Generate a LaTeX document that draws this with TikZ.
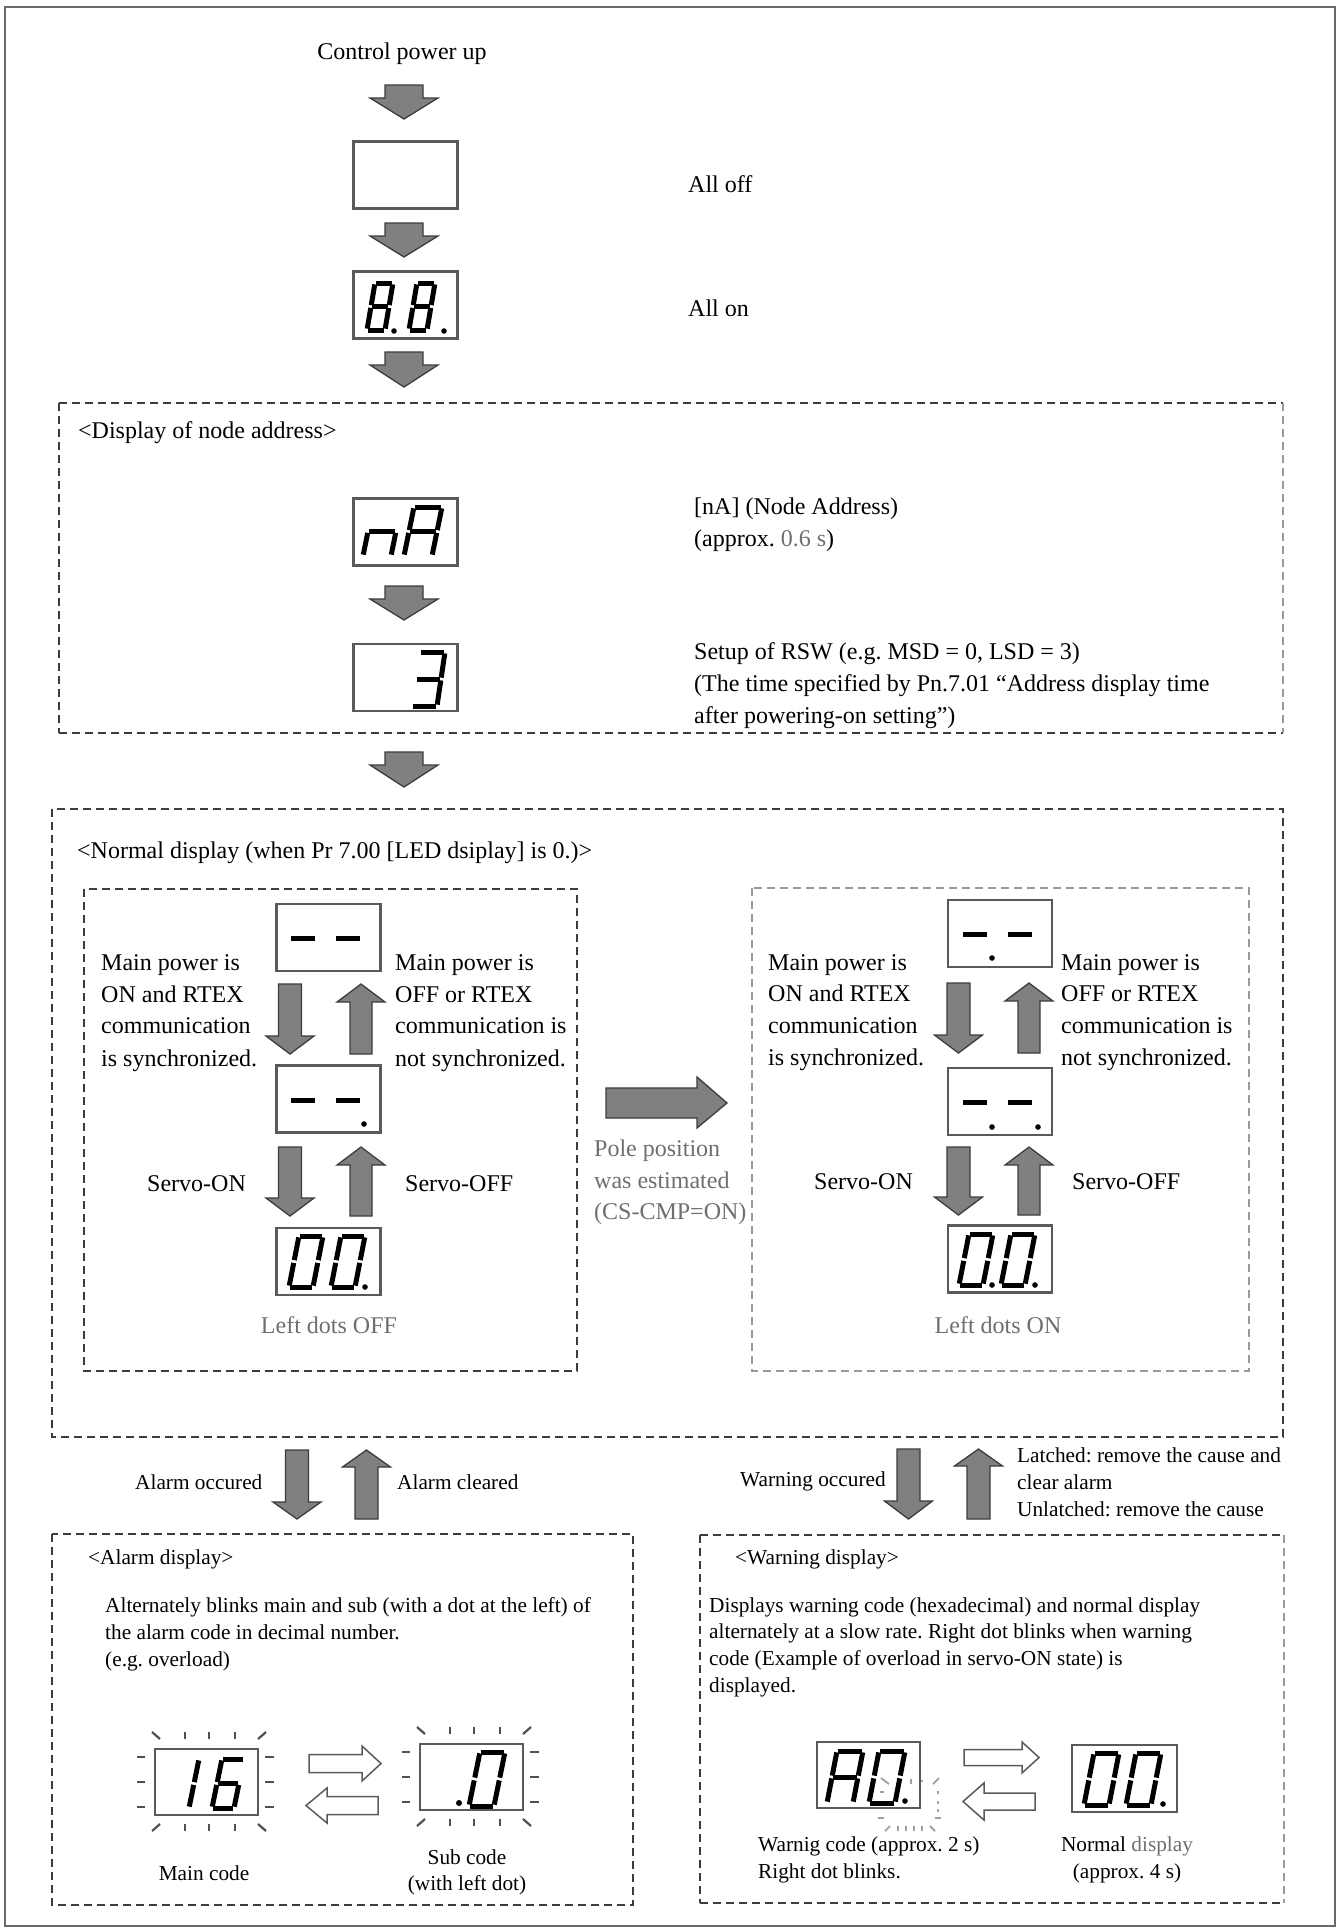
\documentclass[tikz,border=0pt]{standalone}
\usepackage{fontspec}
\setmainfont{Liberation Serif}
\frenchspacing
\definecolor{arrfill}{HTML}{808080}
\definecolor{arrdraw}{HTML}{3C3C3C}
\definecolor{boxc}{HTML}{5A5A5A}
\definecolor{dashc}{HTML}{3C3C3C}
\definecolor{dashl}{HTML}{9A9A9A}
\definecolor{graytxt}{HTML}{6E6E6E}
\definecolor{tickc}{HTML}{505050}
\definecolor{tickl}{HTML}{A0A0A0}
\definecolor{framec}{HTML}{6A6A6A}
\newcommand\sdig[6]{%
 \begin{scope}[shift={(#1,#2)}]
 \coordinate (BL) at (0,0);
 \coordinate (BR) at (#3,0);
 \coordinate (ML) at ({#5/2},{-#4/2});
 \coordinate (MR) at ({#3+#5/2},{-#4/2});
 \coordinate (TL) at (#5,-#4);
 \coordinate (TR) at ({#3+#5},-#4);
 \foreach \p/\q in #6 {\draw[segl] (\p) -- (\q);}
 \end{scope}}
\def\segEight{TL/TR,TR/MR,MR/BR,BL/BR,ML/BL,TL/ML,ML/MR}
\def\segZero{TL/TR,TR/MR,MR/BR,BL/BR,ML/BL,TL/ML}
\def\segOne{TR/MR,MR/BR}
\def\segSix{TL/TR,TL/ML,ML/MR,ML/BL,BL/BR,MR/BR}
\def\segThree{TL/TR,TR/MR,ML/MR,MR/BR,BL/BR}
\def\segN{ML/MR,ML/BL,MR/BR}
\def\segA{TL/TR,TR/MR,MR/BR,ML/BL,TL/ML,ML/MR}
\newcommand\blinkbox[2]{%
 \begin{scope}[shift={(#1,#2)}]
 \foreach \xx in {30,54,80} {\draw[tick] (\xx,-17) -- (\xx,-10); \draw[tick] (\xx,75) -- (\xx,82);}
 \foreach \yy in {8,33,58} {\draw[tick] (-18,\yy) -- (-10,\yy); \draw[tick] (110,\yy) -- (119,\yy);}
 \draw[tick] (-3,-17) -- (5,-10);
 \draw[tick] (103,-10) -- (111,-17);
 \draw[tick] (-3,82) -- (5,75);
 \draw[tick] (103,75) -- (111,82);
 \end{scope}}
\newcommand\barrowdown[6]{% cx ytop yhead ytip shw hhw
 \draw[blk] ({#1-#5},#2) -- ({#1+#5},#2) -- ({#1+#5},#3) -- ({#1+#6},#3) -- (#1,#4) -- ({#1-#6},#3) -- ({#1-#5},#3) -- cycle;}
\newcommand\barrowup[6]{% cx ytip yhead ybot shw hhw
 \draw[blk] (#1,#2) -- ({#1+#6},#3) -- ({#1+#5},#3) -- ({#1+#5},#4) -- ({#1-#5},#4) -- ({#1-#5},#3) -- ({#1-#6},#3) -- cycle;}
\newcommand\harrowR[6]{% x1 xhead xtip yc shh hhh
 \draw[hollow] (#1,{#4-#5}) -- (#2,{#4-#5}) -- (#2,{#4-#6}) -- (#3,#4) -- (#2,{#4+#6}) -- (#2,{#4+#5}) -- (#1,{#4+#5}) -- cycle;}
\newcommand\harrowL[6]{% xtip xhead x2 yc shh hhh
 \draw[hollow] (#1,#4) -- (#2,{#4-#6}) -- (#2,{#4-#5}) -- (#3,{#4-#5}) -- (#3,{#4+#5}) -- (#2,{#4+#5}) -- (#2,{#4+#6}) -- cycle;}
\tikzset{
 blk/.style={fill=arrfill, draw=arrdraw, line width=1.3pt, line join=miter},
 hollow/.style={fill=white, draw=boxc, line width=1.5pt, line join=miter},
 dbox/.style={draw=dashc, line width=2pt, dash pattern=on 8pt off 5pt},
 dboxl/.style={draw=dashl, line width=2pt, dash pattern=on 8pt off 5pt},
 disp/.style={draw=boxc, line width=2.2pt, fill=white, minimum width=104pt, minimum height=67pt, inner sep=0pt},
 segl/.style={line width=5pt, shorten <=1.4pt, shorten >=1.4pt},
 dashseg/.style={line width=5pt},
 tick/.style={draw=tickc, line width=2.2pt},
 tickw/.style={draw=tickl, line width=1.8pt},
 big/.style={font=\fontsize{24}{32}\selectfont, inner sep=0pt},
 small/.style={font=\fontsize{21.3}{27}\selectfont, inner sep=0pt},
}
\begin{document}
\begin{tikzpicture}[x=1pt,y=-1pt]
\useasboundingbox (0,0) rectangle (1340,1928);
\draw[framec, line width=2.5pt] (5,7) rectangle (1335,1926);

% ---------- top column ----------
\node[big, anchor=base] (tcpu) at (402,59) {Control power up};
\barrowdown{404}{85}{98}{119}{19}{34}
\node[disp] (alloff) at (405.5,175) {};
\node[big, anchor=base west] (talloff) at (688,192) {All off};
\barrowdown{404}{223}{236}{257}{19}{34}
\node[disp] (allon) at (405.5,305) {};
\sdig{367}{330}{18}{47}{8}{\segEight}
\sdig{409}{330}{18}{47}{8}{\segEight}
\fill (394,331) circle[radius=2.8pt];
\fill (444,331) circle[radius=2.8pt];
\node[big, anchor=base west] (tallon) at (688,316) {All on};
\barrowdown{404}{352}{365}{387}{19}{34}

% ---------- node address box ----------
\draw[dbox] (59,403) -- (1283,403);
\draw[dbox] (59,733) -- (1283,733);
\draw[dbox] (59,403) -- (59,733);
\draw[dboxl] (1283,403) -- (1283,733);
\node[big, anchor=base west] (tdna) at (78,438) {<Display of node address>};
\node[disp] (na) at (405.5,532) {};
\sdig{363}{556}{28}{49}{10}{\segN}
\sdig{404}{556}{28}{49}{10}{\segA}
\node[big, anchor=base west] (tna1) at (694,514) {[nA] (Node Address)};
\node[big, anchor=base west] (tna2) at (694,546) {(approx. \textcolor{graytxt}{0.6 s})};
\barrowdown{404}{586}{599}{620}{19}{34}
\node[disp] (three) at (405.5,677.5) {};
\sdig{412}{706}{25}{54}{8}{\segThree}
\node[big, anchor=base west] (tsu1) at (694,659) {Setup of RSW (e.g. MSD = 0, LSD = 3)};
\node[big, anchor=base west] (tsu2) at (694,691) {(The time specified by Pn.7.01 “Address display time};
\node[big, anchor=base west] (tsu3) at (694,723) {after powering-on setting”)};
\barrowdown{404}{752}{765}{787}{19}{34}

% ---------- normal display box ----------
\draw[dbox] (52,809) rectangle (1283,1437);
\node[big, anchor=base west] (tnorm) at (77,858) {<Normal display (when Pr 7.00 [LED dsiplay] is 0.)>};
\draw[dbox] (84,889) rectangle (577,1371);
\draw[dboxl] (752,888) rectangle (1249,1371);

% left column
\node[disp] (L1) at (328.5,937.5) {};
\draw[dashseg] (291,938) -- (315,938);
\draw[dashseg] (336,938) -- (360,938);
\barrowdown{290}{984}{1036}{1054}{11.5}{24}
\barrowup{361}{984}{1002}{1054}{11}{24}
\node[disp] (L2) at (328.5,1099) {};
\draw[dashseg] (291,1100) -- (315,1100);
\draw[dashseg] (336,1100) -- (360,1100);
\fill (364,1124) circle[radius=2.8pt];
\barrowdown{290}{1147}{1198}{1216}{11.5}{24}
\barrowup{361}{1147}{1165}{1216}{11}{24}
\node[disp] (L3) at (328.5,1261.5) {};
\sdig{289}{1287}{24}{51}{10}{\segZero}
\sdig{331}{1287}{24}{51}{10}{\segZero}
\fill (365,1287) circle[radius=2.8pt];
\node[big, anchor=base west] (tl1) at (101,970) {Main power is};
\node[big, anchor=base west] (tl2) at (101,1002) {ON and RTEX};
\node[big, anchor=base west] (tl3) at (101,1033) {communication};
\node[big, anchor=base west] (tl4) at (101,1066) {is synchronized.};
\node[big, anchor=base west] (tr1) at (395,970) {Main power is};
\node[big, anchor=base west] (tr2) at (395,1002) {OFF or RTEX};
\node[big, anchor=base west] (tr3) at (395,1033) {communication is};
\node[big, anchor=base west] (tr4) at (395,1066) {not synchronized.};
\node[big, anchor=base west] (tson) at (147,1191) {Servo-ON};
\node[big, anchor=base west] (tsoff) at (405,1191) {Servo-OFF};
\node[big, anchor=base, text=graytxt] (tldoff) at (329,1333) {Left dots OFF};

% pole arrow
\draw[blk] (606,1088) -- (697,1088) -- (697,1077) -- (727,1103) -- (697,1128) -- (697,1118) -- (606,1118) -- cycle;
\node[big, anchor=base west, text=graytxt] (tp1) at (594,1156) {Pole position};
\node[big, anchor=base west, text=graytxt] (tp2) at (594,1188) {was estimated};
\node[big, anchor=base west, text=graytxt] (tp3) at (594,1219) {(CS-CMP=ON)};

% right column
\node[disp] (R1) at (1000,933.5) {};
\draw[dashseg] (963,934) -- (987,934);
\draw[dashseg] (1008,934) -- (1032,934);
\fill (992,958) circle[radius=2.8pt];
\barrowdown{958.5}{983}{1035}{1053}{11.5}{24}
\barrowup{1029}{983}{1001}{1053}{11}{24}
\node[disp] (R2) at (1000,1101.5) {};
\draw[dashseg] (963,1102) -- (987,1102);
\draw[dashseg] (1008,1102) -- (1032,1102);
\fill (992,1127) circle[radius=2.8pt];
\fill (1038,1127) circle[radius=2.8pt];
\barrowdown{958.5}{1147}{1197}{1215}{11.5}{24}
\barrowup{1029}{1147}{1165}{1215}{11}{24}
\node[disp] (R3) at (1000,1259) {};
\sdig{959}{1285}{24}{51}{10}{\segZero}
\sdig{1001}{1285}{24}{51}{10}{\segZero}
\fill (992,1285) circle[radius=2.8pt];
\fill (1035,1285) circle[radius=2.8pt];
\node[big, anchor=base west] (rl1) at (768,970) {Main power is};
\node[big, anchor=base west] (rl2) at (768,1001) {ON and RTEX};
\node[big, anchor=base west] (rl3) at (768,1033) {communication};
\node[big, anchor=base west] (rl4) at (768,1065) {is synchronized.};
\node[big, anchor=base west] (rr1) at (1061,970) {Main power is};
\node[big, anchor=base west] (rr2) at (1061,1001) {OFF or RTEX};
\node[big, anchor=base west] (rr3) at (1061,1033) {communication is};
\node[big, anchor=base west] (rr4) at (1061,1065) {not synchronized.};
\node[big, anchor=base west] (rson) at (814,1189) {Servo-ON};
\node[big, anchor=base west] (rsoff) at (1072,1189) {Servo-OFF};
\node[big, anchor=base, text=graytxt] (tldon) at (998,1333) {Left dots ON};

% ---------- transitions to alarm / warning ----------
\barrowdown{297}{1450}{1502}{1519}{11.5}{24}
\barrowup{366.5}{1450}{1467}{1519}{11.5}{24}
\node[small, anchor=base west] (taocc) at (135,1489) {Alarm occured};
\node[small, anchor=base west] (taclr) at (397,1489) {Alarm cleared};
\barrowdown{908.5}{1449}{1501}{1519}{11.5}{24}
\barrowup{978.5}{1449}{1466}{1519}{11.5}{24}
\node[small, anchor=base west] (twocc) at (740,1486) {Warning occured};
\node[small, anchor=base west] (tlat1) at (1017,1462) {Latched: remove the cause and};
\node[small, anchor=base west] (tlat2) at (1017,1489) {clear alarm};
\node[small, anchor=base west] (tlat3) at (1017,1516) {Unlatched: remove the cause};

% ---------- alarm display ----------
\draw[dbox] (52,1534) rectangle (633,1905);
\node[small, anchor=base west] (tad) at (88,1564) {<Alarm display>};
\node[small, anchor=base west] (ta1) at (105,1612) {Alternately blinks main and sub (with a dot at the left) of};
\node[small, anchor=base west] (ta2) at (105,1639) {the alarm code in decimal number.};
\node[small, anchor=base west] (ta3) at (105,1666) {(e.g. overload)};
\blinkbox{155}{1749}
\node[disp, minimum width=103pt, minimum height=66pt] (m16) at (206.5,1782) {};
\sdig{167}{1808}{22}{49}{10}{\segOne}
\sdig{212}{1808}{22}{49}{10}{\segSix}
\harrowR{309}{362}{381}{1763.5}{9}{17.5}
\harrowL{306}{327}{378}{1805.5}{9}{17.5}
\blinkbox{420}{1744}
\node[disp, minimum width=103pt, minimum height=66pt] (sub0) at (471.5,1777) {};
\sdig{469}{1806}{25}{54}{11}{\segZero}
\fill (459,1803) circle[radius=3pt];
\node[small, anchor=base] (tmain) at (204,1880) {Main code};
\node[small, anchor=base] (tsub1) at (467,1864) {Sub code};
\node[small, anchor=base] (tsub2) at (467,1890) {(with left dot)};

% ---------- warning display ----------
\draw[dbox] (700,1535) -- (1284,1535);
\draw[dbox] (700,1903) -- (1284,1903);
\draw[dbox] (700,1535) -- (700,1903);
\draw[dboxl] (1284,1535) -- (1284,1903);
\node[small, anchor=base west] (twd) at (735,1564) {<Warning display>};
\node[small, anchor=base west] (tw1) at (709,1612) {Displays warning code (hexadecimal) and normal display};
\node[small, anchor=base west] (tw2) at (709,1638) {alternately at a slow rate. Right dot blinks when warning};
\node[small, anchor=base west] (tw3) at (709,1665) {code (Example of overload in servo-ON state) is};
\node[small, anchor=base west] (tw4) at (709,1692) {displayed.};
\node[disp, minimum width=103pt, minimum height=66pt] (a0) at (868.5,1775) {};
\sdig{827}{1803}{26}{52}{10}{\segA}
\sdig{869}{1803}{26}{52}{10}{\segZero}
\fill (905,1801) circle[radius=2.8pt];
% blinking right dot marks
\draw[tickw] (881,1778) -- (889,1784);
\draw[tickw] (911,1779) -- (911,1784);
\draw[tickw] (921,1781) -- (923,1781);
\draw[tickw] (933,1784) -- (939,1778);
\draw[tickw] (880,1792) -- (884,1792);
\draw[tickw] (938,1791) -- (938,1794);
\draw[tickw] (938,1801) -- (938,1804);
\draw[tickw] (938,1809) -- (938,1812);
\draw[tickw] (878,1818) -- (884,1818);
\draw[tickw] (935,1818) -- (941,1818);
\draw[tickw] (885,1831) -- (890,1826);
\foreach \xx in {898,906,914,922} {\draw[tickw] (\xx,1826) -- (\xx,1831);}
\draw[tickw] (930,1826) -- (935,1831);
\harrowR{964}{1022}{1039}{1757.5}{8}{15.5}
\harrowL{963}{984}{1035}{1801.5}{8.5}{18.5}
\node[disp, minimum width=105pt] (w00) at (1124.5,1778.5) {};
\sdig{1084}{1805}{25}{52}{10}{\segZero}
\sdig{1126}{1805}{25}{52}{10}{\segZero}
\fill (1163,1804) circle[radius=2.8pt];
\node[small, anchor=base west] (tww1) at (758,1851) {Warnig code (approx. 2 s)};
\node[small, anchor=base west] (tww2) at (758,1878) {Right dot blinks.};
\node[small, anchor=base] (tnd1) at (1127,1851) {Normal \textcolor{graytxt}{display}};
\node[small, anchor=base] (tnd2) at (1127,1878) {(approx. 4 s)};
\end{tikzpicture}
\end{document}
